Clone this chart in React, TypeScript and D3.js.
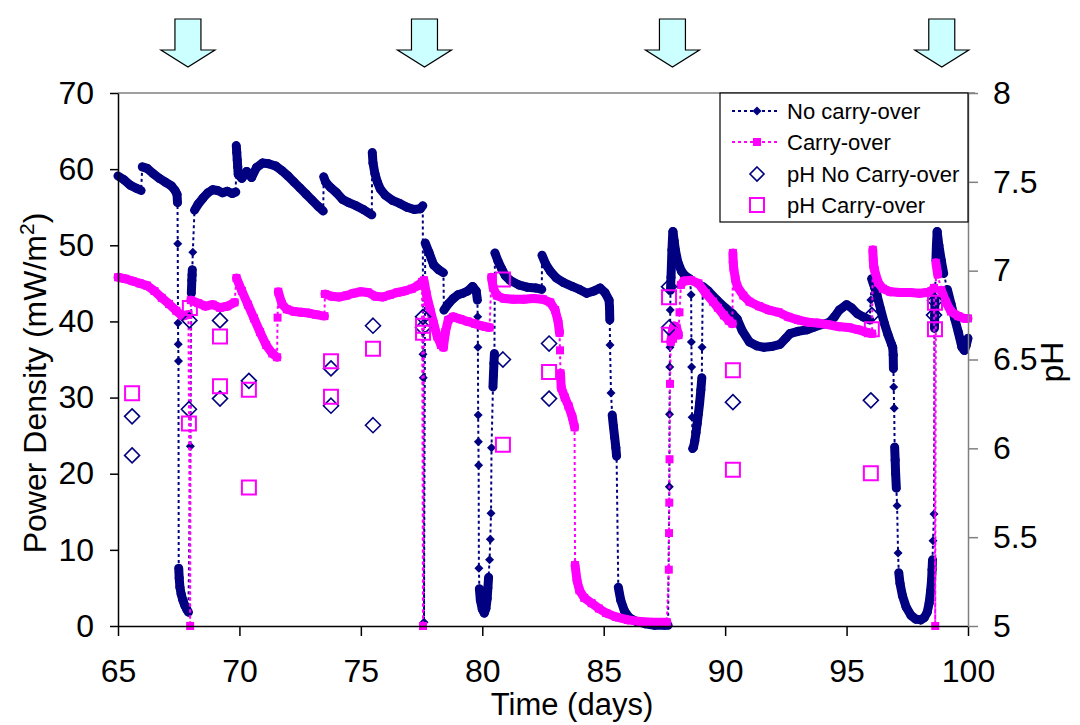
import React, { useEffect, useRef } from 'react';
import * as d3 from 'd3';

// [day, power density mW/m2]
const noCarryOver: [number, number][] = [
  [65.0, 59.1], [65.25, 58.6], [65.5, 57.9], [65.75, 57.5], [65.95, 57.2],
  [66.0, 60.3], [66.2, 60.1], [66.45, 59.4], [66.7, 58.8], [66.95, 58.3], [67.2, 57.8], [67.35, 57.2], [67.43, 56.7],
  [67.45, 55.6], [67.46, 50.2], [67.47, 39.8], [67.48, 37.0], [67.49, 34.8],
  [67.5, 7.6], [67.52, 6.3], [67.55, 5.1], [67.6, 4.2], [67.67, 3.4], [67.75, 2.7], [67.83, 2.2], [67.9, 1.8],
  [67.98, 23.6], [68.02, 43.7], [68.04, 45.4], [68.05, 46.1], [68.06, 46.8], [68.08, 49.1],
  [68.15, 54.6], [68.3, 55.4], [68.5, 56.2], [68.7, 56.9], [68.9, 57.3], [69.1, 57.2], [69.3, 56.9], [69.5, 57.1], [69.7, 56.8], [69.85, 57.0],
  [69.87, 63.1], [69.89, 62.2], [69.91, 61.2], [69.93, 60.3], [69.95, 59.3], [70.1, 58.8], [70.3, 59.7], [70.5, 58.9],
  [70.7, 60.2], [70.95, 60.8], [71.2, 60.7], [71.5, 60.4], [71.75, 59.8], [72.0, 59.1], [72.25, 58.3], [72.5, 57.5],
  [72.75, 56.7], [73.0, 55.9], [73.25, 55.1], [73.45, 54.5],
  [73.47, 59.0], [73.55, 58.3], [73.75, 57.6], [74.0, 56.9], [74.25, 56.0], [74.5, 55.6], [74.8, 55.2], [75.1, 54.7], [75.45, 54.0],
  [75.47, 62.2], [75.5, 60.8], [75.58, 59.4], [75.68, 58.3], [75.8, 57.4], [76.0, 56.6], [76.3, 55.9], [76.6, 55.5],
  [76.9, 55.0], [77.2, 54.7], [77.45, 54.8], [77.55, 55.2],
  [77.56, 35.7], [77.57, 32.6], [77.6, 0.5],
  [77.65, 50.3], [77.8, 49.1], [78.0, 47.4], [78.2, 46.8], [78.4, 46.4],
  [78.42, 41.5], [78.6, 42.3], [78.8, 43.0], [79.0, 43.5], [79.2, 43.7], [79.4, 44.0], [79.6, 44.6], [79.75, 44.0], [79.8, 42.8],
  [79.81, 40.6], [79.82, 36.6], [79.83, 27.7], [79.84, 24.2], [79.85, 21.1],
  [79.86, 7.6], [79.88, 4.9], [79.92, 3.4], [80.0, 2.2], [80.08, 1.7], [80.15, 2.3], [80.2, 3.6], [80.23, 5.0],
  [80.26, 6.4], [80.3, 8.7], [80.33, 11.4], [80.36, 14.8],
  [80.38, 23.4], [80.44, 31.4], [80.46, 33.0], [80.48, 34.5], [80.5, 35.8],
  [80.52, 49.0], [80.65, 47.9], [80.8, 46.9], [80.95, 46.0], [81.14, 45.4], [81.5, 44.8], [81.84, 44.5], [82.2, 44.4], [82.45, 44.2],
  [82.46, 48.7], [82.6, 47.6], [82.8, 46.6], [83.05, 45.7], [83.35, 45.1], [83.7, 44.6], [84.0, 44.2], [84.3, 43.7],
  [84.6, 44.0], [84.85, 44.4], [85.05, 43.8], [85.22, 42.8],
  [85.24, 41.8], [85.25, 40.2], [85.26, 36.9], [85.3, 30.6], [85.35, 27.7], [85.4, 26.2], [85.45, 24.8], [85.5, 23.4], [85.53, 22.3],
  [85.6, 5.1], [85.7, 3.4], [85.85, 2.0], [86.05, 1.1], [86.35, 0.6], [86.7, 0.3], [87.1, 0.1], [87.5, 0.1], [87.65, 0.1],
  [87.7, 18.3], [87.71, 27.8], [87.72, 34.0], [87.73, 36.6], [87.74, 41.5], [87.75, 44.1], [87.77, 45.8], [87.79, 47.6],
  [87.81, 49.4], [87.83, 50.8], [87.85, 51.8], [87.9, 50.6], [87.95, 49.4], [88.05, 47.8], [88.2, 46.6], [88.35, 46.0], [88.55, 45.6],
  [88.6, 43.5], [88.61, 37.3], [88.62, 34.0], [88.64, 27.4],
  [88.66, 23.3], [88.7, 23.5], [88.75, 24.3], [88.8, 25.4], [88.85, 26.6], [88.9, 27.9], [88.95, 29.3], [89.0, 31.0],
  [89.04, 32.6], [89.05, 36.6], [89.08, 44.6], [89.3, 44.0], [89.66, 42.8], [90.0, 41.8], [90.3, 41.0], [90.5, 40.3],
  [90.7, 38.8], [91.0, 37.3], [91.3, 36.8], [91.6, 36.6], [91.9, 36.7], [92.26, 37.0], [92.5, 37.8], [92.67, 38.4],
  [93.0, 38.7], [93.37, 38.9], [93.7, 39.3], [94.0, 39.6], [94.3, 39.9], [94.5, 40.6], [94.7, 41.5], [95.0, 42.2],
  [95.2, 41.8], [95.45, 41.0], [95.68, 40.6], [95.95, 40.2],
  [96.0, 42.8], [96.03, 45.6], [96.1, 45.0], [96.25, 43.5], [96.4, 41.6], [96.55, 39.8], [96.7, 38.3], [96.85, 37.0], [96.9, 36.6],
  [96.92, 35.6], [96.93, 33.8], [96.94, 31.4], [96.96, 28.6],
  [96.98, 23.5], [97.0, 21.8], [97.02, 20.0], [97.05, 18.1], [97.08, 15.8], [97.12, 9.6], [97.15, 7.0], [97.2, 5.6],
  [97.3, 4.0], [97.45, 2.5], [97.65, 1.4], [97.85, 0.9], [98.05, 0.8], [98.2, 1.1], [98.32, 1.8], [98.4, 3.0],
  [98.46, 4.6], [98.5, 6.0], [98.52, 7.4], [98.54, 8.7], [98.56, 11.2], [98.6, 14.7],
  [98.62, 39.1], [98.63, 40.8], [98.64, 42.8], [98.68, 48.0], [98.7, 50.0], [98.73, 51.8], [98.8, 50.0], [98.9, 48.0],
  [99.0, 46.3], [99.15, 44.2], [99.3, 42.3], [99.45, 40.4], [99.6, 38.6], [99.75, 36.6], [99.85, 36.2], [99.92, 36.8], [100.0, 37.8],
];

const carryOver: [number, number][] = [
  [65.0, 45.8], [65.3, 45.6], [65.6, 45.3], [65.9, 45.0], [66.2, 44.7], [66.5, 44.0], [66.8, 43.1], [67.1, 42.3],
  [67.4, 41.4], [67.65, 40.7], [67.9, 40.9],
  [67.97, 0],
  [68.0, 42.8], [68.3, 42.4], [68.6, 42.0], [68.9, 42.2], [69.2, 41.8], [69.5, 42.0], [69.8, 42.5],
  [69.88, 45.7], [70.1, 44.0], [70.35, 42.2], [70.6, 40.4], [70.85, 38.6], [71.1, 36.9], [71.35, 35.8], [71.55, 35.3],
  [71.57, 40.5],
  [71.6, 43.9], [71.75, 42.3], [71.95, 41.6], [72.25, 41.3], [72.55, 41.2], [72.85, 41.1], [73.15, 40.9], [73.5, 40.7],
  [73.52, 43.6], [73.8, 43.3], [74.1, 43.2], [74.4, 43.4], [74.7, 43.7], [75.0, 43.9], [75.3, 43.8], [75.6, 43.3],
  [75.9, 43.2], [76.2, 43.5], [76.5, 43.8], [76.8, 44.0], [77.1, 44.3], [77.35, 44.7], [77.52, 45.2],
  [77.56, 0],
  [77.6, 45.4], [77.7, 43.6], [77.85, 41.6], [78.0, 39.7], [78.15, 38.0], [78.3, 36.9], [78.4, 36.6], [78.48, 38.6],
  [78.6, 40.2], [78.8, 40.6], [79.1, 40.3], [79.4, 40.0], [79.7, 39.7], [80.0, 39.4], [80.3, 39.2],
  [80.38, 45.8], [80.45, 44.4], [80.6, 43.4], [80.9, 43.0], [81.3, 42.9], [81.7, 42.9], [82.1, 43.0], [82.5, 42.9],
  [82.8, 42.5], [83.0, 41.5], [83.12, 40.0], [83.18, 38.5],
  [83.2, 36.2], [83.22, 33.2],
  [83.25, 31.3], [83.4, 30.0], [83.55, 28.9], [83.7, 27.5], [83.8, 26.1],
  [83.82, 8.0], [83.9, 6.0], [84.0, 4.7], [84.2, 3.7], [84.5, 3.0], [84.8, 2.3], [85.1, 1.7], [85.5, 1.2],
  [86.0, 0.8], [86.5, 0.6], [87.0, 0.5], [87.6, 0.5],
  [87.68, 7.4], [87.69, 12.2], [87.7, 16.2], [87.71, 21.9], [87.73, 31.8],
  [87.76, 37.3], [87.82, 38.6], [87.9, 39.4], [88.0, 39.2], [88.08, 38.2], [88.12, 41.2], [88.18, 44.8], [88.3, 45.3],
  [88.6, 45.4], [88.9, 45.0], [89.2, 43.7], [89.5, 42.6], [89.7, 41.8], [89.95, 40.8], [90.15, 40.1], [90.3, 39.7],
  [90.32, 49.0], [90.33, 47.8], [90.36, 46.8], [90.42, 45.6], [90.5, 44.6], [90.75, 43.4], [91.0, 42.6], [91.4, 42.0],
  [91.8, 41.5], [92.2, 41.2], [92.6, 40.6], [93.0, 40.2], [93.4, 39.9], [93.8, 39.8], [94.2, 39.6], [94.7, 39.3],
  [95.1, 39.2], [95.5, 38.9], [95.8, 38.6], [96.05, 38.4],
  [96.08, 49.4], [96.1, 48.0], [96.12, 47.2], [96.15, 46.8], [96.3, 45.1], [96.5, 44.3], [96.8, 43.9], [97.2, 43.8],
  [97.6, 43.8], [98.0, 43.7], [98.3, 43.8], [98.5, 44.0], [98.6, 44.4],
  [98.65, 0],
  [98.68, 47.7], [98.75, 46.2], [98.9, 44.1], [99.1, 42.5], [99.3, 41.3], [99.6, 40.7], [99.85, 40.4], [100.0, 40.4],
];

// [day, pH]
const phNoCarryOver: [number, number][] = [
  [65.58, 6.18], [65.58, 5.96], [67.94, 6.72], [67.92, 6.22], [69.2, 6.72], [69.2, 6.28], [70.39, 6.38],
  [73.77, 6.45], [73.77, 6.24], [75.5, 6.69], [75.5, 6.13], [77.56, 6.74], [77.56, 6.68], [80.85, 6.5],
  [82.75, 6.59], [82.75, 6.28], [87.69, 6.91], [87.69, 6.68], [90.32, 6.26], [96.04, 6.75], [96.0, 6.27],
  [98.64, 6.83], [98.6, 6.75],
];

const phCarryOver: [number, number][] = [
  [65.58, 6.31], [67.96, 6.79], [67.92, 6.14], [69.2, 6.63], [69.2, 6.35], [70.39, 6.33], [70.39, 5.78],
  [73.77, 6.49], [73.77, 6.29], [75.5, 6.56], [77.56, 6.69], [77.56, 6.65], [80.85, 6.95], [80.85, 6.02],
  [82.75, 6.43], [87.69, 6.85], [87.69, 6.64], [90.32, 6.44], [90.32, 5.88], [96.04, 6.67], [96.0, 5.86],
  [98.64, 6.82], [98.64, 6.67],
];

const dayTicks = [65, 70, 75, 80, 85, 90, 95, 100];
const powerTicks = [0, 10, 20, 30, 40, 50, 60, 70];
const phTicks = [5, 5.5, 6, 6.5, 7, 7.5, 8];
// feeding days marked with the arrows on top
const feedDays = [67.88, 77.62, 87.83, 98.92];

const legendItems = ['No carry-over', 'Carry-over', 'pH No Carry-over', 'pH Carry-over'];

const NAVY = '#000080';
const MAGENTA = '#ff00ff';
const FONT = '"Liberation Sans", Arial, Helvetica, sans-serif';

function diamond(r: number) {
  return `M0,${-r}L${r},0L0,${r}L${-r},0Z`;
}
function square(h: number) {
  return `M${-h},${-h}H${h}V${h}H${-h}Z`;
}

export default function App() {
  const svgRef = useRef<SVGSVGElement>(null);

  useEffect(() => {
    const svg = d3.select(svgRef.current);
    svg.selectAll('*').remove();

    const x = d3.scaleLinear().domain([65, 100]).range([118, 968]);
    const y = d3.scaleLinear().domain([0, 70]).range([626, 93]);
    const yPh = d3.scaleLinear().domain([5, 8]).range([626, 93]);

    svg.append('rect').attr('width', 1080).attr('height', 725).attr('fill', '#fff');

    // arrows
    feedDays.forEach(d => {
      const cx = x(d);
      svg.append('path')
        .attr('d', `M${cx - 13},19H${cx + 13}V50H${cx + 27}L${cx},67L${cx - 27},50H${cx - 13}Z`)
        .attr('fill', '#ccffff')
        .attr('stroke', '#000')
        .attr('stroke-width', 1.2);
    });

    // plot top border
    svg.append('line').attr('x1', 118).attr('x2', 975).attr('y1', 93).attr('y2', 93)
      .attr('stroke', '#808080').attr('stroke-width', 1.5);

    const drawSeries = (data: [number, number][], color: string, shape: string, scaleY: any) => {
      const g = svg.append('g');
      const pts = data.map(d => [x(d[0]), scaleY(d[1])] as [number, number]);
      g.append('path')
        .attr('d', d3.line()(pts))
        .attr('fill', 'none')
        .attr('stroke', color)
        .attr('stroke-width', 2)
        .attr('stroke-dasharray', '3,3');
      // closely spaced readings merge into a solid band
      const segs: [number, number][][] = [];
      for (let i = 1; i < pts.length; i++) {
        const dx = pts[i][0] - pts[i - 1][0];
        const dy = pts[i][1] - pts[i - 1][1];
        if (Math.sqrt(dx * dx + dy * dy) < 16) segs.push([pts[i - 1], pts[i]]);
      }
      g.selectAll('line.band').data(segs).join('line')
        .attr('class', 'band')
        .attr('x1', d => d[0][0]).attr('y1', d => d[0][1])
        .attr('x2', d => d[1][0]).attr('y2', d => d[1][1])
        .attr('stroke', color)
        .attr('stroke-width', 9)
        .attr('stroke-linecap', 'round');
      g.selectAll('path.mark').data(pts).join('path')
        .attr('class', 'mark')
        .attr('d', shape)
        .attr('transform', d => `translate(${d[0]},${d[1]})`)
        .attr('fill', color);
    };

    drawSeries(noCarryOver, NAVY, diamond(4.5), y);
    drawSeries(carryOver, MAGENTA, square(4), y);

    svg.append('g').selectAll('path').data(phNoCarryOver).join('path')
      .attr('d', diamond(7.5))
      .attr('transform', d => `translate(${x(d[0])},${yPh(d[1])})`)
      .attr('fill', 'none').attr('stroke', NAVY).attr('stroke-width', 1.6);
    svg.append('g').selectAll('path').data(phCarryOver).join('path')
      .attr('d', square(7))
      .attr('transform', d => `translate(${x(d[0])},${yPh(d[1])})`)
      .attr('fill', 'none').attr('stroke', MAGENTA).attr('stroke-width', 2);

    // axes
    const left = svg.append('g').attr('transform', 'translate(118,0)')
      .call(d3.axisLeft(y).tickValues(powerTicks).tickSize(8).tickSizeOuter(0).tickPadding(16));
    const bottom = svg.append('g').attr('transform', 'translate(0,626)')
      .call(d3.axisBottom(x).tickValues(dayTicks).tickSize(10).tickSizeOuter(0).tickPadding(23));
    const right = svg.append('g').attr('transform', 'translate(968,0)')
      .call(d3.axisRight(yPh).tickValues(phTicks).tickSize(10).tickSizeOuter(0).tickPadding(15).tickFormat(d => String(d)));
    [left, bottom, right].forEach(g => {
      g.attr('font-family', FONT).attr('font-size', 32);
      g.selectAll('text').attr('fill', '#000');
      g.selectAll('path, line').attr('stroke-width', 1.5);
    });
    left.attr('color', '#000');
    bottom.attr('color', '#000');
    right.attr('color', '#808080');

    // axis titles
    const title = svg.append('text')
      .attr('transform', 'translate(46,383) rotate(-90)')
      .attr('text-anchor', 'middle')
      .attr('font-family', FONT).attr('font-size', 32);
    title.append('tspan').text('Power Density (mW/m');
    title.append('tspan').attr('dy', -12).attr('font-size', 21).text('2');
    title.append('tspan').attr('dy', 12).text(')');

    svg.append('text')
      .attr('x', 572).attr('y', 715)
      .attr('text-anchor', 'middle')
      .attr('font-family', FONT).attr('font-size', 31)
      .text('Time (days)');

    svg.append('text')
      .attr('transform', 'translate(1063,362) rotate(-90)')
      .attr('text-anchor', 'middle')
      .attr('font-family', FONT).attr('font-size', 32)
      .text('pH');

    // legend
    const lg = svg.append('g');
    lg.append('rect').attr('x', 720).attr('y', 93).attr('width', 248).attr('height', 129)
      .attr('fill', '#fff').attr('stroke', '#000').attr('stroke-width', 1.2);
    const rowY = [111, 142, 174, 205];
    legendItems.forEach((label, i) => {
      const ry = rowY[i];
      if (i < 2) {
        lg.append('line').attr('x1', 732).attr('x2', 780).attr('y1', ry).attr('y2', ry)
          .attr('stroke', i === 0 ? NAVY : MAGENTA).attr('stroke-width', 2).attr('stroke-dasharray', '3,3');
        lg.append('path').attr('d', i === 0 ? diamond(4.5) : square(4))
          .attr('transform', `translate(757,${ry})`).attr('fill', i === 0 ? NAVY : MAGENTA);
      } else {
        lg.append('path').attr('d', i === 2 ? diamond(7) : square(7))
          .attr('transform', `translate(757,${ry})`).attr('fill', 'none')
          .attr('stroke', i === 2 ? NAVY : MAGENTA).attr('stroke-width', i === 2 ? 1.6 : 2);
      }
      lg.append('text').attr('x', 787).attr('y', ry + 7.5)
        .attr('font-family', FONT).attr('font-size', 22)
        .text(label);
    });
  }, []);

  return (
    <svg ref={svgRef} width={1080} height={725}
         style={{ position: 'absolute', left: 0, top: 0 }}>
    </svg>
  );
}
